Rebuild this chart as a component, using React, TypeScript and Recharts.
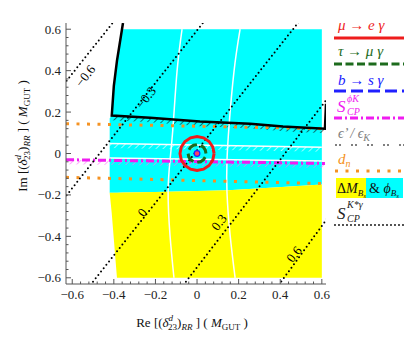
import { ComposedChart, Area, Line, Scatter, XAxis, YAxis, ReferenceDot } from 'recharts'

const SERIF = '"Liberation Serif", "DejaVu Serif", serif'
const FRAME = '#555'
const RED = '#ee1c1c'
const GREEN = '#1d6b1d'
const BLUE = '#2020ff'
const MAGENTA = '#f01cf0'
const GRAY = '#808080'
const ORANGE = '#f59222'
const CYAN = '#00ffff'
const YELLOW = '#ffff00'

const X_DOMAIN: [number, number] = [-0.63, 0.62]
const Y_DOMAIN: [number, number] = [-0.63, 0.63]

// frame ticks
const majorTicks = [-0.6, -0.4, -0.2, 0, 0.2, 0.4, 0.6]
const allTicks = [
  -0.6, -0.56, -0.52, -0.48, -0.44, -0.4, -0.36, -0.32, -0.28, -0.24, -0.2, -0.16, -0.12, -0.08, -0.04, 0,
  0.04, 0.08, 0.12, 0.16, 0.2, 0.24, 0.28, 0.32, 0.36, 0.4, 0.44, 0.48, 0.52, 0.56, 0.6,
]

// ΔM_Bs & φ_Bs allowed bands, sampled on one Re grid
const bandRe = [-0.42, -0.41, -0.4, -0.385, -0.36, -0.2, 0, 0.15, 0.35, 0.6]
const cyanTop = [0.17, 0.183, 0.327, 0.447, 0.6, 0.6, 0.6, 0.6, 0.6, 0.6]
const cyanBottom = [-0.19, -0.19, -0.19, -0.189, -0.188, -0.186, -0.181, -0.177, -0.165, -0.15]
const yellowBottom = [-0.19, -0.29, -0.414, -0.6, -0.6, -0.6, -0.6, -0.6, -0.6, -0.6]

// thick black bound (hatched side below)
const edgeRe = [-0.356, -0.385, -0.4, -0.41, -0.226, 0.014, 0.255, 0.413, 0.615, 0.62]
const edgeIm = [0.63, 0.447, 0.327, 0.183, 0.173, 0.154, 0.144, 0.13, 0.12, 0.24]

// white contours inside the bands
const arcIm = [0.6, 0.399, 0.135, -0.034, -0.188, -0.394, -0.6]
const arc1Re = [-0.072, -0.096, -0.115, -0.13, -0.139, -0.13, -0.111]
const arc2Re = [0.207, 0.178, 0.154, 0.144, 0.144, 0.159, 0.183]
const whiteRe = [-0.42, 0.6]
const white1Im = [0.048, 0.03]
const white2Im = [-0.022, -0.036]

// S_CP^{phi K}
const phiKRe = [-0.63, 0.615]
const phiKIm = [-0.03, -0.048]

// d_n bounds
const dnRe = [-0.63, 0.6]
const dnUpperIm = [0.144, 0.12]
const dnLowerIm = [-0.115, -0.145]

// S_CP^{K* gamma} contours
const sKm06Re = [-0.64, -0.406]
const sKm06Im = [0.335, 0.63]
const sKm03Re = [-0.64, 0.028]
const sKm03Im = [-0.218, 0.63]
const sK0Re = [-0.513, 0.489]
const sK0Im = [-0.635, 0.635]
const sK03Re = [-0.066, 0.625]
const sK03Im = [-0.635, 0.263]
const sK06Re = [0.393, 0.625]
const sK06Im = [-0.635, -0.315]
const sKLabels = [
  { re: -0.538, im: 0.375, text: '\u22120.6' },
  { re: -0.245, im: 0.27, text: '\u22120.3' },
  { re: -0.264, im: -0.284, text: '0' },
  { re: 0.106, im: -0.332, text: '0.3' },
  { re: 0.466, im: -0.486, text: '0.6' },
]

// mu -> e gamma and tau -> mu gamma contours around the origin
const muEgRe = [0.082, 0.0758, 0.058, 0.0314, 0, -0.0314, -0.058, -0.0758, -0.082, -0.0758, -0.058, -0.0314, 0, 0.0314, 0.058, 0.0758, 0.082]
const muEgIm = [0, 0.0314, 0.058, 0.0758, 0.082, 0.0758, 0.058, 0.0314, 0, -0.0314, -0.058, -0.0758, -0.082, -0.0758, -0.058, -0.0314, 0]
const tauMgRe = [0.043, 0.0397, 0.0304, 0.0165, 0, -0.0165, -0.0304, -0.0397, -0.043, -0.0397, -0.0304, -0.0165, 0, 0.0165, 0.0304, 0.0397, 0.043]
const tauMgIm = [0, 0.0165, 0.0304, 0.0397, 0.043, 0.0397, 0.0304, 0.0165, 0, -0.0165, -0.0304, -0.0397, -0.043, -0.0397, -0.0304, -0.0165, 0]

const seriesNames = ['\u03bc \u2192 e \u03b3', '\u03c4 \u2192 \u03bc \u03b3', 'b \u2192 s \u03b3']

const HATCH = 0.022

const pts = (re: number[], im: number[]) => re.map((r, i) => ({ re: r, im: im[i] }))

function buildTable() {
  const rows = new Map<number, any>()
  const put = (re: number, key: string, lo: number, hi: number) => {
    const row = rows.get(re) ?? { re }
    row[key] = [lo, hi]
    rows.set(re, row)
  }
  bandRe.forEach((re, i) => {
    put(re, 'cyan', cyanBottom[i], cyanTop[i])
    put(re, 'yellow', yellowBottom[i], cyanBottom[i])
  })
  for (let i = 3; i <= 8; i++) put(edgeRe[i], 'hatchK', edgeIm[i] - HATCH, edgeIm[i])
  whiteRe.forEach((re, i) => put(re, 'hatchW', white1Im[i] - HATCH, white1Im[i]))
  phiKRe.forEach((re, i) => put(re, 'hatchM', phiKIm[i] - HATCH, phiKIm[i]))
  return [...rows.values()].sort((a, b) => a.re - b.re)
}

const isMajor = (v: number) => majorTicks.some((m) => Math.abs(m - v) < 1e-9)
const fmt = (v: number) => (Math.abs(v) < 1e-9 ? '0' : (v < 0 ? '\u2212' : '') + Math.abs(v).toFixed(1))

function BottomTick({ x, y, payload }: any) {
  const major = isMajor(payload.value)
  return (
    <g>
      <line x1={x} x2={x} y1={y} y2={y - (major ? 5 : 2.5)} stroke={FRAME} />
      {major && (
        <text x={x} y={y + 15} textAnchor="middle" fontFamily={SERIF} fontSize={13} fill="#222">
          {fmt(payload.value)}
        </text>
      )}
    </g>
  )
}

function LeftTick({ x, y, payload }: any) {
  const major = isMajor(payload.value)
  return (
    <g>
      <line x1={x} x2={x + (major ? 5 : 2.5)} y1={y} y2={y} stroke={FRAME} />
      {major && (
        <text x={x - 5} y={y + 4.5} textAnchor="end" fontFamily={SERIF} fontSize={13} fill="#222">
          {fmt(payload.value)}
        </text>
      )}
    </g>
  )
}

function TopTick({ x, y, payload }: any) {
  const major = isMajor(payload.value)
  return <line x1={x} x2={x} y1={y} y2={y + (major ? 5 : 2.5)} stroke={FRAME} />
}

function RightTick({ x, y, payload }: any) {
  const major = isMajor(payload.value)
  return <line x1={x} x2={x - (major ? 5 : 2.5)} y1={y} y2={y} stroke={FRAME} />
}

function Title({ prefix, x, y, rotate }: { prefix: string; x: number; y: number; rotate?: boolean }) {
  return (
    <text
      x={x}
      y={y}
      textAnchor="middle"
      fontFamily={SERIF}
      fontSize={13}
      fill="#111"
      transform={rotate ? `rotate(-90 ${x} ${y})` : undefined}
    >
      <tspan>{prefix} [(</tspan>
      <tspan fontStyle="italic">{'\u03b4'}</tspan>
      <tspan fontSize={9} fontStyle="italic" dy={-6}>d</tspan>
      <tspan fontSize={9} dx={-5} dy={9}>23</tspan>
      <tspan dy={-3}>)</tspan>
      <tspan fontSize={9} fontStyle="italic" dy={3}>RR</tspan>
      <tspan dy={-3}> ] ( </tspan>
      <tspan fontStyle="italic">M</tspan>
      <tspan fontSize={9} dy={3}>GUT</tspan>
      <tspan dy={-3}> )</tspan>
    </text>
  )
}

const XTitle = () => <Title prefix="Re" x={192} y={327} />
const YTitle = () => <Title prefix="Im" x={27} y={136} rotate />

function ContourLabel(p: any) {
  return (
    <text
      x={p.cx}
      y={p.cy}
      transform={`rotate(-52 ${p.cx} ${p.cy})`}
      textAnchor="middle"
      dominantBaseline="central"
      fontFamily={SERIF}
      fontSize={13}
      fill="#000"
    >
      {p.payload.text}
    </text>
  )
}

function LegendPanel() {
  const it = { fontFamily: SERIF, fontStyle: 'italic' as const, fontSize: 15 }
  return (
    <svg width={76} height={240} style={{ position: 'absolute', left: 330, top: 0 }}>
      <text x={8} y={30} fill={RED} {...it}>{seriesNames[0]}</text>
      <line x1={4} x2={74} y1={38} y2={38} stroke={RED} strokeWidth={3} />
      <text x={8} y={56} fill={GREEN} {...it}>{seriesNames[1]}</text>
      <line x1={4} x2={74} y1={64} y2={64} stroke={GREEN} strokeWidth={3} strokeDasharray="8 3.5" />
      <text x={8} y={85} fill={BLUE} {...it}>{seriesNames[2]}</text>
      <line x1={4} x2={74} y1={91} y2={91} stroke={BLUE} strokeWidth={3} strokeDasharray="12 5" />
      <text x={7} y={112} fill={MAGENTA} {...it} fontSize={17}>S</text>
      <text x={17} y={102} fill={MAGENTA} {...it} fontSize={10}>{'\u03d5K'}</text>
      <text x={17} y={115} fill={MAGENTA} {...it} fontSize={10}>CP</text>
      <line x1={4} x2={74} y1={118} y2={118} stroke={MAGENTA} strokeWidth={3} strokeDasharray="8 3 2 3" />
      <text x={8} y={138} fill={GRAY} {...it} fontSize={14}>
        {'\u03f5\u2019 / \u03f5'}
        <tspan fontSize={10} dy={3}>K</tspan>
      </text>
      <line x1={5} x2={74} y1={145} y2={145} stroke={GRAY} strokeWidth={2} strokeDasharray="2 2 2 10" />
      <text x={8} y={164} fill={ORANGE} {...it}>
        d<tspan fontSize={10} dy={3}>n</tspan>
      </text>
      <line x1={5} x2={74} y1={171} y2={171} stroke={ORANGE} strokeWidth={3} strokeDasharray="3 7.5" />
      <rect x={6} y={178} width={30} height={20} fill={YELLOW} />
      <rect x={36} y={178} width={37} height={20} fill={CYAN} />
      <text x={7} y={193} fill="#111" fontFamily={SERIF} fontSize={14}>
        {'\u0394'}<tspan fontStyle="italic">M</tspan>
        <tspan fontSize={9} fontStyle="italic" dy={3}>B</tspan>
        <tspan fontSize={7} fontStyle="italic" dy={2}>s</tspan>
      </text>
      <text x={39} y={193} fill="#111" fontFamily={SERIF} fontSize={14}>
        {'& '}<tspan fontStyle="italic">{'\u03d5'}</tspan>
        <tspan fontSize={9} fontStyle="italic" dy={3}>B</tspan>
        <tspan fontSize={7} fontStyle="italic" dy={2}>s</tspan>
      </text>
      <text x={7} y={219} fill="#222" {...it} fontSize={17}>S</text>
      <text x={17} y={208} fill="#222" {...it} fontSize={10}>{'K*\u03b3'}</text>
      <text x={17} y={222} fill="#222" {...it} fontSize={10}>CP</text>
      <line x1={5} x2={74} y1={225} y2={225} stroke="#000" strokeWidth={1.8} strokeDasharray="0 4" strokeLinecap="round" />
    </svg>
  )
}

export default function App() {
  const table = buildTable()
  const plain = { isAnimationActive: false, dot: false, activeDot: false, legendType: 'none' as const }
  const black = { stroke: '#000', strokeWidth: 2, strokeDasharray: '0 4.3', strokeLinecap: 'round' as const }
  return (
    <div style={{ position: 'absolute', left: 0, top: 0, width: 406, height: 343, background: '#fff' }}>
      <ComposedChart width={406} height={343} data={table} margin={{ top: 23, right: 80, bottom: 0, left: 0 }}>
        <defs>
          <pattern id="hatchK" width="5" height="5" patternUnits="userSpaceOnUse" patternTransform="rotate(45)">
            <line x1="0" y1="0" x2="0" y2="5" stroke="#111" strokeWidth="1.2" />
          </pattern>
          <pattern id="hatchW" width="5" height="5" patternUnits="userSpaceOnUse" patternTransform="rotate(45)">
            <line x1="0" y1="0" x2="0" y2="5" stroke="#fff" strokeWidth="1.2" />
          </pattern>
          <pattern id="hatchM" width="5" height="5" patternUnits="userSpaceOnUse" patternTransform="rotate(45)">
            <line x1="0" y1="0" x2="0" y2="5" stroke="#ff70ff" strokeWidth="1.2" />
          </pattern>
        </defs>
        <XAxis
          dataKey="re"
          type="number"
          domain={X_DOMAIN}
          allowDataOverflow
          ticks={allTicks}
          interval={0}
          tick={<BottomTick />}
          tickLine={false}
          tickSize={0}
          tickMargin={0}
          height={59}
          axisLine={{ stroke: FRAME }}
          label={<XTitle />}
        />
        <XAxis
          xAxisId="top"
          orientation="top"
          dataKey="re"
          type="number"
          domain={X_DOMAIN}
          allowDataOverflow
          ticks={allTicks}
          interval={0}
          tick={<TopTick />}
          tickLine={false}
          tickSize={0}
          tickMargin={0}
          height={0}
          axisLine={{ stroke: FRAME }}
        />
        <YAxis
          type="number"
          domain={Y_DOMAIN}
          allowDataOverflow
          ticks={allTicks}
          interval={0}
          tick={<LeftTick />}
          tickLine={false}
          tickSize={0}
          tickMargin={0}
          width={66}
          axisLine={{ stroke: FRAME }}
          label={<YTitle />}
        />
        <YAxis
          yAxisId="right"
          orientation="right"
          type="number"
          domain={Y_DOMAIN}
          allowDataOverflow
          ticks={allTicks}
          interval={0}
          tick={<RightTick />}
          tickLine={false}
          tickSize={0}
          tickMargin={0}
          width={0}
          axisLine={{ stroke: FRAME }}
        />

        <Area dataKey="cyan" type="linear" fill={CYAN} fillOpacity={1} stroke="none" connectNulls {...plain} />
        <Area dataKey="yellow" type="linear" fill={YELLOW} fillOpacity={1} stroke="none" connectNulls {...plain} />
        <Area dataKey="hatchK" type="linear" fill="url(#hatchK)" fillOpacity={1} stroke="none" connectNulls {...plain} />
        <Area dataKey="hatchW" type="linear" fill="url(#hatchW)" fillOpacity={1} stroke="none" connectNulls {...plain} />
        <Area dataKey="hatchM" type="linear" fill="url(#hatchM)" fillOpacity={1} stroke="none" connectNulls {...plain} />

        <Line data={pts(arc1Re, arcIm)} dataKey="im" type="natural" stroke="#fff" strokeWidth={1.5} {...plain} />
        <Line data={pts(arc2Re, arcIm)} dataKey="im" type="natural" stroke="#fff" strokeWidth={1.5} {...plain} />
        <Line data={pts(whiteRe, white1Im)} dataKey="im" type="linear" stroke="#fff" strokeWidth={1.5} {...plain} />
        <Line data={pts(whiteRe, white2Im)} dataKey="im" type="linear" stroke="#fff" strokeWidth={1.5} {...plain} />

        <Line data={pts(dnRe, dnUpperIm)} dataKey="im" type="linear" stroke={ORANGE} strokeWidth={3} strokeDasharray="3 7.5" {...plain} />
        <Line data={pts(dnRe, dnLowerIm)} dataKey="im" type="linear" stroke={ORANGE} strokeWidth={3} strokeDasharray="3 7.5" {...plain} />
        <Line data={pts(phiKRe, phiKIm)} dataKey="im" type="linear" stroke={MAGENTA} strokeWidth={3} strokeDasharray="8 3 2 3" {...plain} />
        <Line data={pts(edgeRe, edgeIm)} dataKey="im" type="linear" stroke="#000" strokeWidth={2.5} {...plain} />

        <Line data={pts(sKm06Re, sKm06Im)} dataKey="im" type="linear" {...black} {...plain} />
        <Line data={pts(sKm03Re, sKm03Im)} dataKey="im" type="linear" {...black} {...plain} />
        <Line data={pts(sK0Re, sK0Im)} dataKey="im" type="linear" {...black} {...plain} />
        <Line data={pts(sK03Re, sK03Im)} dataKey="im" type="linear" {...black} {...plain} />
        <Line data={pts(sK06Re, sK06Im)} dataKey="im" type="linear" {...black} {...plain} />

        <Line data={pts(muEgRe, muEgIm)} dataKey="im" type="linear" stroke={RED} strokeWidth={3} {...plain} />
        <Line data={pts(tauMgRe, tauMgIm)} dataKey="im" type="linear" stroke={GREEN} strokeWidth={3} strokeDasharray="10 4" {...plain} />
        <ReferenceDot x={0} y={0} r={2.8} fill="#ff4060" stroke={BLUE} strokeWidth={1.2} />

        <Scatter data={sKLabels} dataKey="im" isAnimationActive={false} shape={ContourLabel} legendType="none" />
      </ComposedChart>
      <LegendPanel />
    </div>
  )
}
